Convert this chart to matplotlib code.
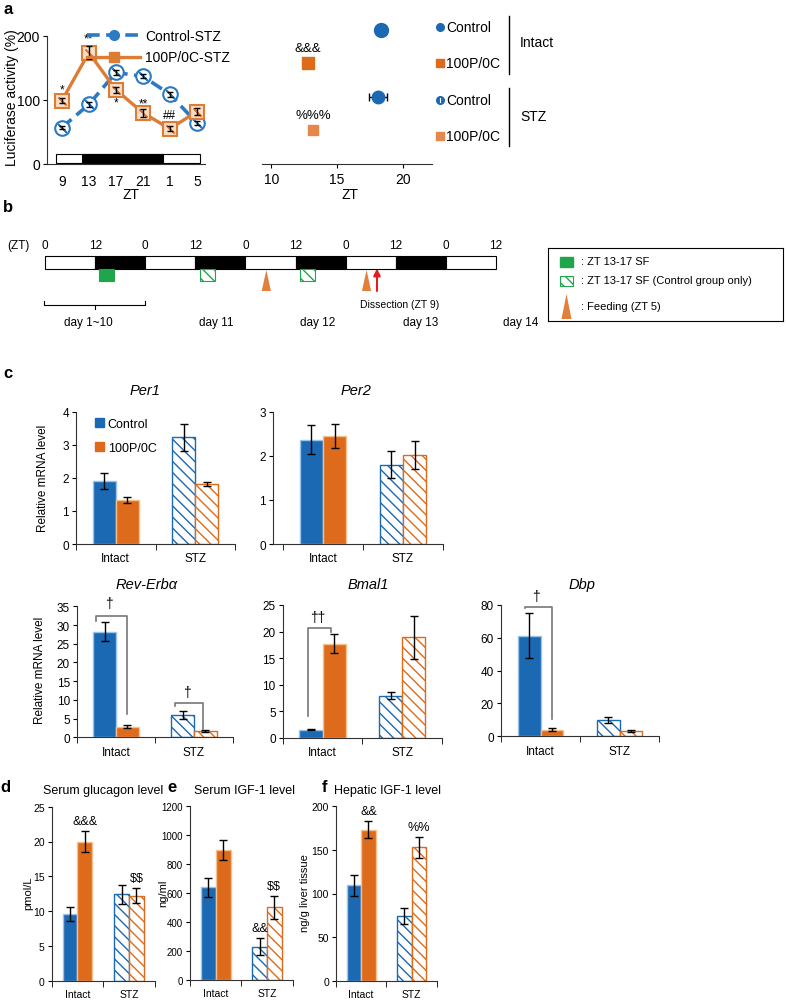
import numpy as np
import matplotlib.pyplot as plt
from matplotlib.patches import Rectangle, Polygon, Patch
from matplotlib.lines import Line2D

plt.rcParams['font.family'] = ['Liberation Sans', 'DejaVu Sans']
plt.rcParams['hatch.linewidth'] = 1.0
plt.rcParams['axes.linewidth'] = 0.8
plt.rcParams['axes.edgecolor'] = '#333333'

NARROW = ['Liberation Sans', 'DejaVu Sans']

BLUE = '#1b68b3'
ORANGE = '#de6a1c'
BLUE_EDGE = '#9cc3ea'
ORANGE_EDGE = '#f4c08e'
LINE_BLUE = '#2a7ac4'
LINE_ORANGE = '#de7b34'
GREEN = '#1fa64a'

# ---- datos panel a ----
zt_labels = ['9', '13', '17', '21', '1', '5']
luc_control = [57, 93, 143, 137, 109, 64]
luc_control_err = [3, 4, 4, 3, 4, 3]
luc_100p = [99, 174, 116, 80, 55, 82]
luc_100p_err = [4, 10, 5, 6, 4, 6]
luc_sig = ['*', '**', '*', '**', '##']
luc_sig_y = [116, 196, 96, 95, 76]

phase_labels = ['Control', '100P/0C', 'Control', '100P/0C']
phase_zt = [18.3, 12.8, 18.1, 13.2]
phase_err = [0.0, 0.0, 0.65, 0.3]
phase_sig = ['', '&&&', '', '%%%']

# ---- datos panel b ----
light_dark = ['L', 'D', 'L', 'D', 'L', 'D', 'L', 'D', 'L']
zt_ticks = ['0', '12', '0', '12', '0', '12', '0', '12', '0', '12']
sf_solid = [13]
sf_hatched = [37, 61]
feeding = [53, 77]
dissection = 79.5
day_labels = ['day 1~10', 'day 11', 'day 12', 'day 13', 'day 14']
day_label_hours = [10.3, 41, 65.4, 90, 114]

# ---- datos panel c-f (Intact Control, Intact 100P, STZ Control, STZ 100P) ----
groups = ['Intact', 'STZ']
per1 = [1.9, 1.33, 3.22, 1.82]
per1_err = [0.25, 0.1, 0.4, 0.06]
per2 = [2.37, 2.45, 1.80, 2.03]
per2_err = [0.33, 0.27, 0.31, 0.32]
rev = [28.2, 2.8, 6.0, 1.7]
rev_err = [2.5, 0.4, 1.0, 0.3]
bmal = [1.5, 17.7, 7.9, 18.9]
bmal_err = [0.1, 1.75, 0.7, 4.0]
dbp = [61.3, 4.0, 9.9, 3.4]
dbp_err = [13.7, 0.8, 2.0, 0.5]

glucagon = [9.6, 20.0, 12.4, 12.2]
glucagon_err = [1.05, 1.45, 1.4, 1.1]
igf_serum = [638, 895, 229, 500]
igf_serum_err = [64, 70, 60, 80]
igf_liver = [109.7, 173.2, 74.5, 153]
igf_liver_err = [12, 9.5, 9.4, 12]

W, H = 786, 1003
fig = plt.figure(figsize=(W / 100, H / 100), dpi=100)


def px_axes(left, top, right, bottom):
    return fig.add_axes([left / W, 1 - bottom / H, (right - left) / W, (bottom - top) / H])


def fig_text(x, y, s, **kw):
    kw.setdefault('ha', 'center')
    kw.setdefault('va', 'center')
    fig.text(x / W, 1 - y / H, s, **kw)


def clean(ax):
    ax.spines['top'].set_visible(False)
    ax.spines['right'].set_visible(False)


BAR_W = 0.29
BAR_X = [-BAR_W / 2, BAR_W / 2, 1 - BAR_W / 2, 1 + BAR_W / 2]


def draw_bars(ax, values, errors, xlim, ylim, yticks, fs=8, family=None):
    for i, (x, v, e) in enumerate(zip(BAR_X, values, errors)):
        col = BLUE if i % 2 == 0 else ORANGE
        edge = BLUE_EDGE if i % 2 == 0 else ORANGE_EDGE
        if i < 2:
            ax.bar(x, v, BAR_W, color=col, edgecolor=edge, linewidth=1)
        else:
            ax.bar(x, v, BAR_W, color='white', edgecolor=col, hatch='\\\\\\', linewidth=1)
        ax.errorbar(x, v, yerr=e, color='black', capsize=3, elinewidth=1, capthick=1)
    clean(ax)
    ax.set_xlim(*xlim)
    ax.set_ylim(*ylim)
    ax.set_yticks(yticks)
    ax.set_xticks([0, 1])
    ax.set_xticklabels(groups)
    ax.set_xticks([-0.5, 0.5, 1.5], minor=True)
    ax.tick_params(axis='x', which='major', length=0, pad=6, labelsize=fs)
    ax.tick_params(axis='x', which='minor', length=4, direction='out')
    ax.tick_params(axis='y', length=3, labelsize=fs, pad=2)
    if family is not None:
        for lab in ax.get_xticklabels() + ax.get_yticklabels():
            lab.set_family(family)


# ================= panel a (izquierda) =================
fig_text(8, 10, 'a', fontsize=12, weight='bold')
ax = px_axes(47, 37, 205, 165)
x = np.arange(len(zt_labels))
# barra luz/oscuridad
ax.add_patch(Rectangle((-0.2, 1), 5.3, 14, facecolor='white', edgecolor='black', lw=0.8))
ax.add_patch(Rectangle((0.75, 1), 3.0, 14, facecolor='black', edgecolor='black', lw=0.8))
ax.plot(x, luc_control, color=LINE_BLUE, lw=2.6, ls=(0, (3.5, 1.8)), marker='o', ms=10.5,
        mfc='white', mec=LINE_BLUE, mew=1.5, zorder=3, label='Control-STZ')
ax.plot(x, luc_control, ls='none', marker=(2, 2, 45), ms=9, mec=LINE_BLUE, mew=1.3, zorder=3)
ax.plot(x, luc_100p, color=LINE_ORANGE, lw=2.4, marker='s', ms=10,
        mfc='#fbdcc4', mec=LINE_ORANGE, mew=1.5, zorder=3, label='100P/0C-STZ')
ax.plot(x, luc_100p, ls='none', marker=(2, 2, 45), ms=8, mec=LINE_ORANGE, mew=1.0, zorder=3)
ax.errorbar(x, luc_control, yerr=luc_control_err, fmt='none', ecolor='black',
            capsize=2.5, elinewidth=1, zorder=4)
ax.errorbar(x, luc_100p, yerr=luc_100p_err, fmt='none', ecolor='black',
            capsize=2.5, elinewidth=1, zorder=4)
for xi, s, yv in zip(x, luc_sig, luc_sig_y):
    ax.text(xi, yv, s, ha='center', va='center', fontsize=8.5, clip_on=False)
clean(ax)
ax.set_xlim(-0.55, 5.3)
ax.set_ylim(0, 200)
ax.set_yticks([0, 100, 200])
ax.set_xticks(x)
ax.set_xticklabels(zt_labels)
ax.tick_params(axis='x', length=0, pad=7, labelsize=10)
ax.tick_params(axis='y', length=3, labelsize=10, pad=2)
leg_handles = [
    Line2D([], [], color=LINE_BLUE, lw=2.6, ls=(0, (3.5, 1.8)), marker='o', ms=7,
           mfc=LINE_BLUE, mec=LINE_BLUE),
    Line2D([], [], color=LINE_ORANGE, lw=2.4, marker='s', ms=7, mfc=LINE_ORANGE, mec=LINE_ORANGE),
]
ax.legend(leg_handles, ['Control-STZ', '100P/0C-STZ'], loc='upper left',
          bbox_to_anchor=(0.22, 1.1), frameon=False, fontsize=10, handlelength=3.8,
          handletextpad=0.35, labelspacing=0.55, borderaxespad=0)
fig_text(12, 98, 'Luciferase activity (%)', rotation=90, fontsize=10)
fig_text(131, 195, 'ZT', fontsize=10)

# ================= panel a (derecha) =================
ax = px_axes(262, 14, 432, 165)
rows = [3, 2, 1, 0]
ax.plot(phase_zt[0], rows[0], 'o', color=BLUE, ms=10)
ax.plot(phase_zt[1], rows[1], 's', color=ORANGE, ms=9)
ax.errorbar(phase_zt[2], rows[2], xerr=phase_err[2], fmt='o', color=BLUE, ms=9,
            ecolor='black', capsize=3, elinewidth=1)
ax.errorbar(phase_zt[3], rows[3], xerr=phase_err[3], fmt='s', color='#e5884a', ms=7.5,
            ecolor='black', capsize=2, elinewidth=1)
for zt, r, s in zip(phase_zt, rows, phase_sig):
    if s:
        ax.annotate(s, (zt, r), xytext=(0, 7), textcoords='offset points',
                    ha='center', va='bottom', fontsize=9.5)
for side in ['top', 'right', 'left']:
    ax.spines[side].set_visible(False)
ax.set_xlim(9.3, 22.2)
ax.set_ylim(-1.0, 3.5)
ax.set_yticks([])
ax.set_xticks([10, 15, 20])
ax.tick_params(axis='x', length=3, labelsize=10, pad=3)
fig_text(350, 195, 'ZT', fontsize=10)

# leyenda manual
lg = px_axes(430, 14, 580, 165)
lg.set_xlim(430, 580)
lg.set_ylim(165, 14)
lg.axis('off')
leg_y = [28, 64, 101, 137]
leg_mk = ['o', 's', 'o', 's']
leg_col = [BLUE, ORANGE, BLUE, '#e5884a']
for yy, lab, mk, c in zip(leg_y, phase_labels, leg_mk, leg_col):
    lg.plot(440, yy, mk, color=c, ms=5.5, clip_on=False)
    lg.text(446, yy, lab, ha='left', va='center', fontsize=10)
lg.plot([440, 440], [99, 103], color='white', lw=0.8)
lg.plot([509, 509], [17, 75], color='black', lw=1)
lg.plot([509, 509], [89, 147], color='black', lw=1)
lg.text(537, 43, 'Intact', ha='center', va='center', fontsize=10)
lg.text(533, 117, 'STZ', ha='center', va='center', fontsize=10)

# ================= panel b =================
fig_text(8, 208, 'b', fontsize=12, weight='bold')
ax = px_axes(45, 240, 496, 330)
ax.set_xlim(0, 108)
ax.set_ylim(330, 240)
ax.axis('off')
for i, ph in enumerate(light_dark):
    ax.add_patch(Rectangle((i * 12, 257), 12, 13, facecolor='black' if ph == 'D' else 'white',
                           edgecolor='black', lw=0.8, clip_on=False))
for i, lab in enumerate(zt_ticks):
    ax.text(i * 12, 246, lab, ha='center', va='center', fontsize=8.5, family=NARROW)
fig_text(18, 246, '(ZT)', fontsize=8.5, family=NARROW)
for s in sf_solid:
    ax.add_patch(Rectangle((s, 270), 3.6, 12, facecolor=GREEN, edgecolor=GREEN, lw=0.8))
for s in sf_hatched:
    ax.add_patch(Rectangle((s, 270), 3.6, 12, facecolor='white', edgecolor=GREEN,
                           hatch='\\\\\\', lw=0.8))
for f in feeding:
    ax.add_patch(Polygon([(f - 1.1, 292), (f + 1.1, 292), (f, 271)], closed=True,
                         facecolor='#e0803a', edgecolor='none'))
ax.annotate('', xy=(dissection, 269.5), xytext=(dissection, 292),
            arrowprops=dict(arrowstyle='-|>', color='#e02020', lw=1.5, mutation_scale=10,
                            shrinkA=0, shrinkB=0))
ax.text(85, 305, 'Dissection (ZT 9)', ha='center', va='center', fontsize=7.5, family=NARROW)
ax.plot([-0.3, -0.3, 24, 24], [302, 306, 306, 302], color='black', lw=0.8, clip_on=False)
ax.plot([12, 12], [306, 310], color='black', lw=0.8)
for h, lab in zip(day_label_hours, day_labels):
    ax.text(h, 323, lab, ha='center', va='center', fontsize=8.5, family=NARROW, clip_on=False)

lb = px_axes(548, 249, 783, 322)
lb.set_xlim(548, 783)
lb.set_ylim(322, 249)
lb.set_xticks([])
lb.set_yticks([])
for sp in lb.spines.values():
    sp.set_color('black')
    sp.set_linewidth(0.8)
lb.add_patch(Rectangle((560, 257.5), 13, 10, facecolor=GREEN, edgecolor=GREEN))
lb.text(581, 262.5, ': ZT 13-17 SF', ha='left', va='center', fontsize=8, family=NARROW)
lb.add_patch(Rectangle((560, 276.5), 13, 10, facecolor='white', edgecolor=GREEN,
                       hatch='\\\\\\', lw=0.8))
lb.text(581, 281.5, ': ZT 13-17 SF (Control group only)', ha='left', va='center',
        fontsize=8, family=NARROW)
lb.add_patch(Polygon([(561.5, 320), (571.5, 320), (566.5, 295)], closed=True,
                     facecolor='#e0803a', edgecolor='none'))
lb.text(581, 307, ': Feeding (ZT 5)', ha='left', va='center', fontsize=8, family=NARROW)

# ================= panel c =================
fig_text(8, 373, 'c', fontsize=12, weight='bold')


def bracket(ax, x0, x1, ytop, yl, yr, label, ly):
    ax.plot([x0, x0, x1, x1], [yl, ytop, ytop, yr], color='#777777', lw=1.2, clip_on=False)
    ax.text((x0 + x1) / 2 - 0.03, ly, label, ha='center', va='center', fontsize=10, clip_on=False)


ax = px_axes(76, 412.7, 235, 545)
draw_bars(ax, per1, per1_err, (-0.5, 1.5), (0, 4), [0, 1, 2, 3, 4], fs=8.5)
ax.legend([Patch(color=BLUE), Patch(color=ORANGE)], ['Control', '100P/0C'], loc='upper left',
          bbox_to_anchor=(0.09, 0.99), frameon=False, fontsize=9, handlelength=0.7,
          handleheight=0.7, handletextpad=0.3, labelspacing=0.95, borderaxespad=0)
fig_text(145, 391, 'Per1', fontsize=10.5, style='italic')
fig_text(43, 478, 'Relative mRNA level', rotation=90, fontsize=8.5)

ax = px_axes(273, 413, 443, 545)
draw_bars(ax, per2, per2_err, (-0.625, 1.5), (0, 3), [0, 1, 2, 3], fs=8.5)
fig_text(356, 391, 'Per2', fontsize=10.5, style='italic')

ax = px_axes(77, 607.3, 233, 738.3)
draw_bars(ax, rev, rev_err, (-0.49, 1.48), (0, 35), [0, 5, 10, 15, 20, 25, 30, 35], fs=8.5)
bracket(ax, -0.26, 0.14, 32.5, 31.2, 6.2, '\u2020', 35.9)
bracket(ax, 0.76, 1.12, 9.1, 8.4, 2.2, '\u2020', 12.2)
fig_text(147, 585, 'Rev-Erb\u03b1', fontsize=10.5, style='italic')
fig_text(40, 670, 'Relative mRNA level', rotation=90, fontsize=8.5)

ax = px_axes(282.7, 606, 442, 738.7)
draw_bars(ax, bmal, bmal_err, (-0.5, 1.5), (0, 25), [0, 5, 10, 15, 20, 25], fs=8.5)
bracket(ax, -0.18, 0.11, 20.7, 4.1, 20.0, '\u2020\u2020', 22.7)
fig_text(368, 585, 'Bmal1', fontsize=10.5, style='italic')

ax = px_axes(501, 606, 659, 737.3)
draw_bars(ax, dbp, dbp_err, (-0.5, 1.5), (0, 80), [0, 20, 40, 60, 80], fs=8.5)
bracket(ax, -0.2, 0.14, 79, 78, 10.5, '\u2020', 85.5)
fig_text(582, 585, 'Dbp', fontsize=10.5, style='italic')

# ================= panel d, e, f =================


def mark(ax, idx, values, errors, s):
    ax.annotate(s, (BAR_X[idx], values[idx] + errors[idx]), xytext=(0, 3),
                textcoords='offset points', ha='center', va='bottom', fontsize=9, family=NARROW)


fig_text(5, 788, 'd', fontsize=12, weight='bold')
ax = px_axes(51.7, 807.7, 154.8, 981.7)
draw_bars(ax, glucagon, glucagon_err, (-0.5, 1.5), (0, 25), [0, 5, 10, 15, 20, 25],
          fs=7.5, family=NARROW)
mark(ax, 1, glucagon, glucagon_err, '&&&')
mark(ax, 3, glucagon, glucagon_err, r'\$\$')
fig_text(103, 791, 'Serum glucagon level', fontsize=9, family=NARROW)
fig_text(28, 893, 'pmol/L', rotation=90, fontsize=8, family=NARROW)

fig_text(172, 788, 'e', fontsize=12, weight='bold')
ax = px_axes(190, 806.7, 292.6, 981)
draw_bars(ax, igf_serum, igf_serum_err, (-0.48, 1.5), (0, 1200),
          [0, 200, 400, 600, 800, 1000, 1200], fs=7, family=NARROW)
ax.tick_params(axis='x', labelsize=7.5)
mark(ax, 2, igf_serum, igf_serum_err, '&&')
mark(ax, 3, igf_serum, igf_serum_err, r'\$\$')
fig_text(244, 791, 'Serum IGF-1 level', fontsize=9, family=NARROW)
fig_text(163, 893, 'ng/ml', rotation=90, fontsize=8, family=NARROW)

fig_text(325, 788, 'f', fontsize=12, weight='bold')
ax = px_axes(336, 807.3, 436.7, 981.7)
draw_bars(ax, igf_liver, igf_liver_err, (-0.42, 1.5), (0, 200), [0, 50, 100, 150, 200],
          fs=7.5, family=NARROW)
mark(ax, 1, igf_liver, igf_liver_err, '&&')
mark(ax, 3, igf_liver, igf_liver_err, '%%')
fig_text(388, 791, 'Hepatic IGF-1 level', fontsize=9, family=NARROW)
fig_text(305, 893, 'ng/g liver tissue', rotation=90, fontsize=8, family=NARROW)

fig.savefig('out.png', dpi=100)
